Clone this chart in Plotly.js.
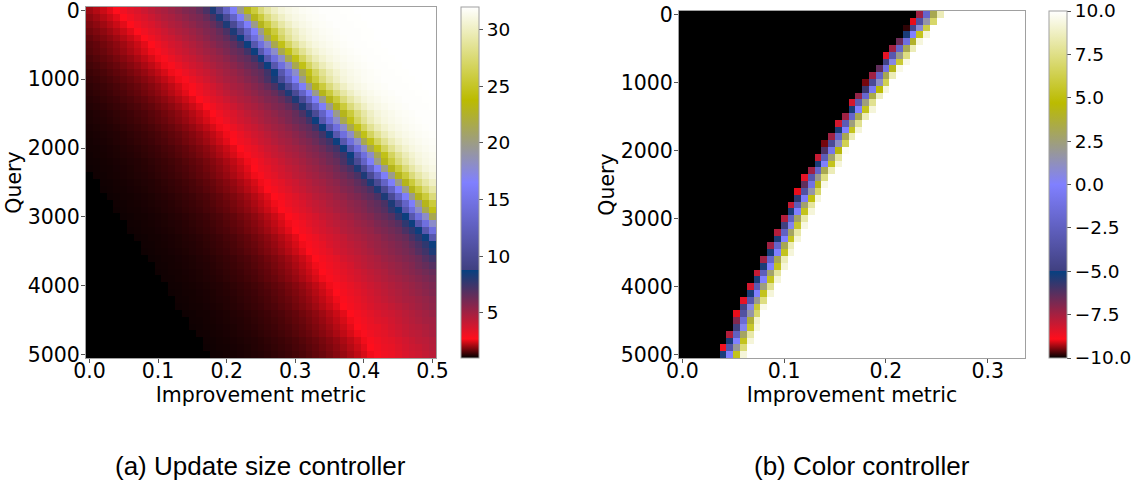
<!DOCTYPE html>
<html><head><meta charset="utf-8">
<script src="https://cdn.plot.ly/plotly-3.0.1.min.js"></script>
<style>html,body{margin:0;padding:0;background:#fff;}#chart{width:1146px;height:486px;}</style>
</head><body><div id="chart"></div>
<script>
// ---------- data ----------
const improvementA = [0,0.01,0.02,0.03,0.04,0.05,0.06,0.07,0.08,0.09,0.1,0.11,0.12,0.13,0.14,0.15,0.16,0.17,0.18,0.19,0.2,0.21,0.22,0.23,0.24,0.25,0.26,0.27,0.28,0.29,0.3,0.31,0.32,0.33,0.34,0.35,0.36,0.37,0.38,0.39,0.4,0.41,0.42,0.43,0.44,0.45,0.46,0.47,0.48,0.49,0.5];
const improvementB = [0,0.0067,0.0133,0.02,0.0267,0.0333,0.04,0.0467,0.0533,0.06,0.0667,0.0733,0.08,0.0867,0.0933,0.1,0.1067,0.1133,0.12,0.1267,0.1333,0.14,0.1467,0.1533,0.16,0.1667,0.1733,0.18,0.1867,0.1933,0.2,0.2067,0.2133,0.22,0.2267,0.2333,0.24,0.2467,0.2533,0.26,0.2667,0.2733,0.28,0.2867,0.2933,0.3,0.3067,0.3133,0.32,0.3267,0.3333];
const queries = [0,100,200,300,400,500,600,700,800,900,1000,1100,1200,1300,1400,1500,1600,1700,1800,1900,2000,2100,2200,2300,2400,2500,2600,2700,2800,2900,3000,3100,3200,3300,3400,3500,3600,3700,3800,3900,4000,4100,4200,4300,4400,4500,4600,4700,4800,4900,5000];

// (a) update size, read per row: column of the bright red ridge and of the navy band
const ridgeCol = [4,5,6,7,8,9,9.5,10.5,11.5,12.5,13.5,14.5,15,16,17,18,18.5,19.5,20.5,21,22,
 22.5,23.5,24,24.5,25.5,26,27,27.5,28,29,29.5,30,31,31.5,32,33,33.5,34,34.5,35.5,36,36.5,37,38,38.5,39,39.5,40.5,41,41.5];
const navyCol = [18.5,19.5,20.5,21.5,22,23,24,25,26,27,27.5,28.5,29.5,30.5,31.5,32.5,33,34,35,36,37,
 38,38.5,39.5,40.5,41.5,42.5,43.5,44.5,45,46,47,48,49,50,50.5,51.5,52.5,53.5,54.5,55.5,56,57,58,59,60,61,61.5,62.5,63.5,64.5];
// values left of the ridge, half-cell steps, far -> near
const darkSide = [1.0,1.0,1.10,1.11,1.11,1.12,1.13,1.14,1.14,1.15,1.16,1.17,1.18,1.19,1.20,1.22,1.23,1.24,1.26,1.27,1.29,1.31,1.33,1.35,1.37,1.39,1.41,1.44,1.47,1.49,1.52,1.56,1.59,1.63,1.66,1.70,1.75,1.79,1.84,1.89,1.94,2.00,2.06,2.13,2.20,2.27,2.34,2.42,2.51,2.60];
// values between ridge and navy band, by fraction of the way (steps of 1/40)
const midRise = [2.70,2.81,2.93,3.04,3.15,3.26,3.38,3.49,3.60,3.71,3.83,3.94,4.05,4.16,4.28,4.39,4.50,4.60,4.70,4.80,
 4.90,5.00,5.10,5.20,5.30,5.42,5.53,5.65,5.77,5.88,6.00,6.15,6.30,6.45,6.60,6.85,7.10,7.35,7.77,8.19,8.60];
// values right of the navy band, half-cell steps
const upperSide = [8.6,10.0,11.5,13.0,14.5,16.2,18.0,19.8,21.5,23.0,24.5,25.7,26.8,27.7,28.5,29.1,29.7,30.1,30.5,30.8,
 31.0,31.15,31.3,31.4,31.5,31.6,31.65,31.7,31.75,31.8,31.85,31.9,31.9,31.9,31.9,31.9,31.95,31.95,31.95,31.95,32];

// (b) color controller: first non-black column per row and the values of the transition cells
const edgeStart = [35,34,33,33,32,31,30,30,29,28,27,27,26,25,25,24,23,23,22,21,21,20,20,19,18,18,17,17,16,16,15,15,14,14,13,13,12,12,11,11,10,10,9,9,8,8,8,7,7,6,6];
const edgeVals = [
 [-7.4,-2.1,3.2,8.5],[-9.0,-3.7,1.6,6.9],[-9.8,-4.5,0.8,6.1],[-5.3,0,5.3,9.2],[-6.6,-1.3,3.9,9.3],
 [-7.4,-2.1,3.2,8.5],[-8.5,-3.2,2.1,7.4],[-4.8,0.5,5.8,9.5],[-6.4,-1.1,4.2,9.5],[-7.4,-2.1,3.2,8.5],
 [-9.5,-4.2,1.1,6.4],[-5.8,-0.5,4.8,9.3],[-7.2,-1.9,3.4,8.7],[-8.2,-2.9,2.4,7.7],[-5.3,0,5.3,9.2],
 [-7.4,-2.1,3.2,8.5],[-8.2,-2.9,2.4,7.7],[-5.3,0,5.3,9.2],[-7.4,-2.1,3.2,8.5],[-9.5,-4.2,1.1,6.4],
 [-6.1,-0.8,4.5,9.8],[-8.0,-2.7,2.7,8.0],[-5.3,0,5.3,9.2],[-7.4,-2.1,3.2,8.5],[-8.5,-3.2,2.1,7.4],
 [-6.4,-1.1,4.2,9.5],[-9.0,-3.7,1.6,6.9],[-5.6,-0.3,5.0,9.3],[-8.0,-2.7,2.7,8.0],[-5.3,0,5.3,9.2],
 [-7.7,-2.4,2.9,8.2],[-5.0,0.3,5.6,9.4],[-7.7,-2.4,2.9,8.2],[-5.3,0,5.3,9.2],[-7.4,-2.1,3.2,8.5],
 [-5.3,0,5.3,9.2],[-7.4,-2.1,3.2,8.5],[-5.3,0,5.3,9.2],[-8.0,-2.7,2.7,8.0],[-5.3,0,5.3,9.2],
 [-8.2,-2.9,2.4,7.7],[-5.3,0,5.3,9.2],[-8.5,-3.2,2.1,7.4],[-4.8,0.5,5.8,9.5],[-9.0,-3.7,1.6,6.9],
 [-6.9,-1.6,3.7,9.0],[-5.0,0.3,5.6,9.4],[-7.7,-2.4,2.9,8.2],[-5.3,0,5.3,9.2],[-8.7,-3.4,1.9,7.2],
 [-5.3,0,5.3,9.2]];

const ticksA = [0,0.1,0.2,0.3,0.4,0.5];
const ticksB = [0,0.1,0.2,0.3];
const ticksQ = [0,1000,2000,3000,4000,5000];
const cbTicksA = [5,10,15,20,25,30];
const cbTicksB = [-10,-7.5,-5,-2.5,0,2.5,5,7.5,10];

// ---------- build grids (table lookups) ----------
const pick = (arr, i) => arr[Math.max(0, Math.min(arr.length - 1, i))];
const zA = queries.map((q, r) => improvementA.map((x, c) => {
  const p = ridgeCol[r], n = navyCol[r];
  if (c < p) return pick(darkSide, darkSide.length - Math.round((p - c) * 2));
  if (c < n) return pick(midRise, Math.round((c - p) / (n - p) * (midRise.length - 1)));
  return pick(upperSide, Math.round((c - n) * 2));
}));
const zB = queries.map((q, r) => improvementB.map((x, c) => {
  const k = c - edgeStart[r];
  if (k < 0) return -10;
  if (k < edgeVals[r].length) return edgeVals[r][k];
  return 10;
}));

// gist_stern
const stern = [[0,'rgb(0,0,0)'],[0.0547,'rgb(255,14,28)'],[0.2499,'rgb(7,64,128)'],[0.25,'rgb(64,64,128)'],
  [0.5,'rgb(128,128,255)'],[0.735,'rgb(187,187,0)'],[1,'rgb(255,255,255)']];

const W = 1146, H = 486;
const fx = px => px / W, fy = px => 1 - px / H;
const TF = {family:'DejaVu Sans', size:20.5, color:'#000'};
const CBF = {family:'DejaVu Sans', size:18.5, color:'#000'};
const frame = '#a0a0a0';

const cb = (xpx, top, bottom, tickvals, fmt) => ({
  x: fx(xpx), xanchor:'left', xpad:0, ypad:0,
  y: fy(bottom), yanchor:'bottom', lenmode:'pixels', len: bottom - top,
  thickness:18, thicknessmode:'pixels',
  outlinewidth:1, outlinecolor:frame,
  ticks:'outside', ticklen:4, tickwidth:1, tickcolor:'#555', ticklabeloverflow:'allow',
  tickvals: tickvals, tickformat: fmt, tickfont: CBF
});

const data = [
  {type:'heatmap', x: improvementA, y: queries, z: zA, xaxis:'x', yaxis:'y',
   colorscale: stern, zmin:1, zmax:32, zsmooth:false, hoverinfo:'skip',
   colorbar: cb(461, 7, 358, cbTicksA, 'd')},
  {type:'heatmap', x: improvementB, y: queries, z: zB, xaxis:'x2', yaxis:'y2',
   colorscale: stern, zmin:-10, zmax:10, zsmooth:false, hoverinfo:'skip',
   colorbar: cb(1049, 11, 358, cbTicksB, '.1f')}
];

const axCommon = {showline:true, mirror:true, linecolor:frame, linewidth:1, showgrid:false, zeroline:false,
  ticks:'outside', ticklen:4, tickwidth:1, tickcolor:'#555', tickfont:TF, fixedrange:true, ticklabeloverflow:'allow'};
const xAx = {ticklabelstandoff:-10};
const yAx = {ticklabelstandoff:-3};

const layout = {
  width:W, height:H, margin:{l:0,r:0,t:0,b:0}, paper_bgcolor:'#fff', plot_bgcolor:'#fff',
  showlegend:false, font:{family:'DejaVu Sans', color:'#000'},
  xaxis: Object.assign({}, axCommon, xAx, {domain:[fx(86), fx(436)], range:[-0.005,0.505], tickvals:ticksA, tickformat:'.1f',
    anchor:'y', title:{text:'Improvement metric', font:TF, standoff:2}}),
  yaxis: Object.assign({}, axCommon, yAx, {domain:[fy(358), fy(7)], range:[5050,-50], tickvals:ticksQ, tickformat:'d',
    anchor:'x', title:{text:'Query', font:TF, standoff:0}}),
  xaxis2: Object.assign({}, axCommon, xAx, {domain:[fx(679), fx(1025)], range:[-0.00333,0.33667], tickvals:ticksB, tickformat:'.1f',
    anchor:'y2', title:{text:'Improvement metric', font:TF, standoff:2}}),
  yaxis2: Object.assign({}, axCommon, yAx, {domain:[fy(358), fy(11)], range:[5050,-50], tickvals:ticksQ, tickformat:'d',
    anchor:'x2', title:{text:'Query', font:TF, standoff:0}}),
  annotations: [
    {text:'(a) Update size controller', xref:'paper', yref:'paper', x:fx(260), y:fy(466), xanchor:'center', yanchor:'middle',
     showarrow:false, font:{family:'Liberation Sans', size:26, color:'#000'}},
    {text:'(b) Color controller', xref:'paper', yref:'paper', x:fx(862), y:fy(466), xanchor:'center', yanchor:'middle',
     showarrow:false, font:{family:'Liberation Sans', size:26, color:'#000'}}
  ]
};

Plotly.newPlot('chart', data, layout, {staticPlot:true, displayModeBar:false});
</script></body></html>
